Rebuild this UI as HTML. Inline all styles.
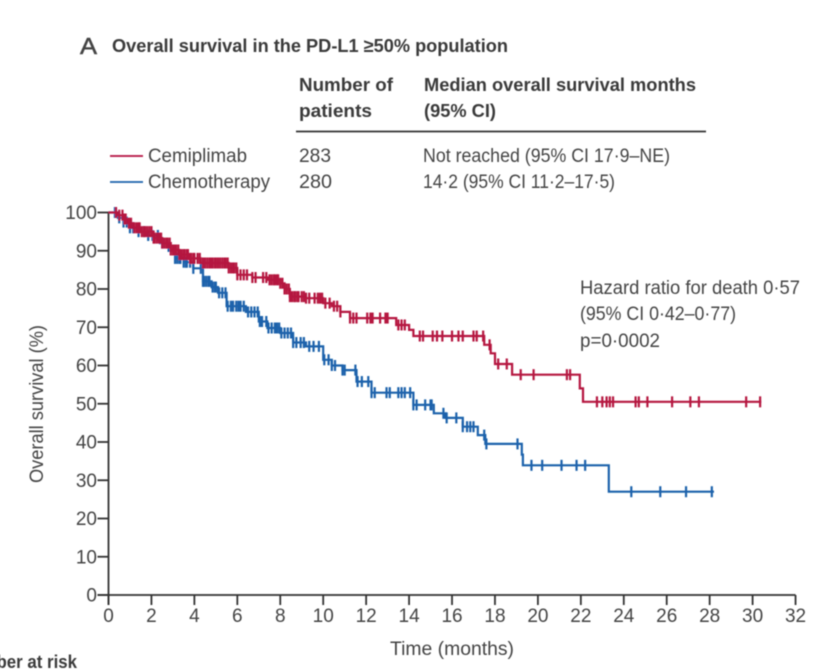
<!DOCTYPE html>
<html>
<head>
<meta charset="utf-8">
<style>
html,body{margin:0;padding:0;background:#fff;width:836px;height:670px;overflow:hidden}
svg{display:block}
text{font-family:"Liberation Sans",sans-serif;fill:#444;font-size:19px}
.b{font-weight:bold;fill:#3a3a3a;font-size:18.5px}
</style>
</head>
<body>
<svg id="chart" width="836" height="670" viewBox="0 0 836 670" xmlns="http://www.w3.org/2000/svg">
<defs><filter id="soft" x="-5%" y="-5%" width="110%" height="110%"><feGaussianBlur stdDeviation="0.5"/></filter></defs>
<g id="root" filter="url(#soft)">
<text x="80" y="54" style="font-size:23px;stroke:#444;stroke-width:0.5" textLength="17" lengthAdjust="spacingAndGlyphs">A</text>
<text class="b" x="112" y="52" textLength="396" lengthAdjust="spacingAndGlyphs">Overall survival in the PD-L1 ≥50% population</text>
<text class="b" x="299" y="91" textLength="94" lengthAdjust="spacingAndGlyphs">Number of</text>
<text class="b" x="299" y="117" textLength="73" lengthAdjust="spacingAndGlyphs">patients</text>
<text class="b" x="424" y="91" textLength="272" lengthAdjust="spacingAndGlyphs">Median overall survival months</text>
<text class="b" x="424" y="117" textLength="72" lengthAdjust="spacingAndGlyphs">(95% CI)</text>
<line x1="296" x2="706" y1="131.5" y2="131.5" stroke="#333" stroke-width="1.8"/>
<line x1="110" x2="143" y1="156" y2="156" stroke="#b5163f" stroke-width="1.8"/>
<text x="148" y="162" textLength="99" lengthAdjust="spacingAndGlyphs">Cemiplimab</text>
<line x1="110" x2="143" y1="182" y2="182" stroke="#1b62ab" stroke-width="1.8"/>
<text x="148" y="188" textLength="122" lengthAdjust="spacingAndGlyphs">Chemotherapy</text>
<text x="299" y="162" textLength="32" lengthAdjust="spacingAndGlyphs">283</text>
<text x="299" y="188" textLength="33" lengthAdjust="spacingAndGlyphs">280</text>
<text x="423" y="162" textLength="247" lengthAdjust="spacingAndGlyphs">Not reached (95% CI 17·9–NE)</text>
<text x="423" y="188" textLength="192" lengthAdjust="spacingAndGlyphs">14·2 (95% CI 11·2–17·5)</text>
<text x="580" y="294" textLength="220" lengthAdjust="spacingAndGlyphs">Hazard ratio for death 0·57</text>
<text x="580" y="320" textLength="156" lengthAdjust="spacingAndGlyphs">(95% CI 0·42–0·77)</text>
<text x="580" y="347" textLength="80" lengthAdjust="spacingAndGlyphs">p=0·0002</text>
<text transform="translate(43,483) rotate(-90)" textLength="158" lengthAdjust="spacingAndGlyphs">Overall survival (%)</text>
<text x="390" y="655" textLength="124" lengthAdjust="spacingAndGlyphs">Time (months)</text>
<text class="b" x="77" y="668" text-anchor="end" textLength="118" lengthAdjust="spacingAndGlyphs">Number at risk</text>
<g id="plot"></g>
</g>
</svg>
<script>
const xTicks = [0,2,4,6,8,10,12,14,16,18,20,22,24,26,28,30,32];
const yTicks = [0,10,20,30,40,50,60,70,80,90,100];

const cemiTimes = [0,0.4,0.7,0.9,1.15,1.5,2.1,2.5,2.9,3.3,3.8,4.3,5.2,5.6,6,6.7,7.4,8,8.2,8.45,9.2,10,10.4,10.8,11.25,13.2,13.4,14,14.2,17.3,17.5,17.8,18,18.8,21.95,22.1,30.4];
const cemiSurv = [100,99.3,98.3,97.2,96,95,93.3,92,90.2,89,88,86.8,86.8,85.5,83.7,83,82.4,81.5,80,78,77.6,76.3,75.5,74,72.4,72.4,70.6,69.3,67.7,67.7,65.4,63.2,60.4,57.6,54,50.5,50.5];
const chemoTimes = [0,0.44,0.7,1,1.4,1.8,2.4,2.8,3.1,3.5,3.95,4.4,4.8,5.1,5.5,6.4,7,7.4,8,8.6,9.2,10,10.4,10.9,11.55,12.25,14.2,15.15,15.7,16.5,17.2,17.55,19.25,19.3,23.3,28.2];
const chemoSurv = [100,98.6,97.5,96,95,94,92,90,88,87,85.4,82,80.5,79,75.5,74,71.5,69.8,68.5,66,65,61.5,60,58.8,55.8,52.9,49.7,47.5,46.3,44,41.8,39.5,36.7,33.9,27,27];

const cemiCensor = [0.35,0.5,0.65,0.75,0.8,0.95,1.05,1.2,1.3,1.4,1.45,1.55,1.65,1.7,1.8,1.9,2.0,2.1,2.15,2.25,2.35,2.45,2.5,2.6,2.7,2.75,2.85,2.9,3.0,3.1,3.15,3.25,3.3,3.4,3.5,3.55,3.65,3.7,3.8,3.85,3.95,4.0,4.15,4.25,4.4,4.5,4.6,4.7,4.8,4.85,4.95,5.0,5.1,5.2,5.3,5.4,5.45,5.55,5.6,5.7,5.8,5.85,5.95,6.0,6.15,6.3,6.45,6.7,6.85,7.2,7.35,7.5,7.6,7.7,7.75,7.85,7.9,8.0,8.1,8.2,8.3,8.4,8.45,8.55,8.65,8.7,8.8,8.85,9.0,9.1,9.2,9.35,9.6,9.75,9.85,9.95,10.1,10.3,10.5,10.65,10.8,11.25,11.4,11.55,12.05,12.2,12.3,12.65,12.9,13.0,13.5,13.65,13.8,14.5,14.65,15.1,15.3,15.55,16,16.3,16.5,17,17.15,17.45,17.75,18.15,18.55,19.2,19.8,21.35,21.5,22.75,23,23.2,23.35,23.5,24.55,24.7,25.1,26.25,27.1,27.5,29.7,30.35];
const chemoCensor = [0.3,0.5,0.7,0.85,1.0,1.15,1.4,1.65,1.85,2.05,2.3,2.5,3.1,3.2,3.3,3.35,3.5,3.6,3.65,3.8,3.95,4.3,4.4,4.45,4.55,4.65,4.7,4.85,4.95,5.0,5.15,5.3,5.45,5.55,5.7,5.8,5.95,6.05,6.15,6.3,6.5,6.65,6.8,6.95,7.05,7.15,7.35,7.45,7.6,7.75,7.85,7.95,8.05,8.2,8.35,8.5,8.6,8.75,8.95,9.1,9.35,9.55,9.8,10.05,10.25,10.4,10.55,10.9,11,11.5,11.6,11.8,12.1,12.25,12.4,12.95,13.1,13.5,13.65,13.8,14.05,14.2,14.35,14.75,15,15.05,15.6,15.75,16.2,16.5,16.7,16.85,17,17.5,17.6,19.05,19.7,20.2,21.1,21.8,22.2,24.35,25.7,26.9,28.1];

const NS = 'http://www.w3.org/2000/svg';
const plot = document.getElementById('plot');
const xScale = t => 108.5 + t * 21.47;
const yScale = s => 595 - s * 3.825;

function survivalAt(times, surv, t) {
  let v = surv[0];
  for (let i = 0; i < times.length; i++) { if (times[i] <= t) v = surv[i]; }
  return v;
}
function stepPath(times, surv) {
  let d = 'M' + xScale(times[0]) + ' ' + yScale(surv[0]);
  for (let i = 1; i < times.length; i++) {
    d += ' H' + xScale(times[i]).toFixed(1) + ' V' + yScale(surv[i]).toFixed(1);
  }
  return d;
}
function drawSeries(times, surv, censor, color, key) {
  const line = document.createElementNS(NS, 'path');
  line.setAttribute('d', stepPath(times, surv));
  line.setAttribute('fill', 'none');
  line.setAttribute('stroke', color);
  line.setAttribute('stroke-width', '2.2');
  
  
  plot.appendChild(line);
  censor.forEach(t => {
    const y = yScale(survivalAt(times, surv, t));
    const m = document.createElementNS(NS, 'line');
    m.setAttribute('x1', xScale(t));
    m.setAttribute('x2', xScale(t));
    m.setAttribute('y1', y - 5.5);
    m.setAttribute('y2', y + 5.5);
    m.setAttribute('stroke', color);
    m.setAttribute('stroke-width', '2.2');
    
    
    plot.appendChild(m);
  });
}
function addLine(x1, y1, x2, y2, name) {
  const l = document.createElementNS(NS, 'line');
  l.setAttribute('x1', x1);
  l.setAttribute('y1', y1);
  l.setAttribute('x2', x2);
  l.setAttribute('y2', y2);
  l.setAttribute('stroke', '#333');
  l.setAttribute('stroke-width', '1.8');
  
  
  plot.appendChild(l);
}
function addLabel(x, y, str, anchor, name) {
  const t = document.createElementNS(NS, 'text');
  t.setAttribute('x', x);
  t.setAttribute('y', y);
  t.setAttribute('text-anchor', anchor);
  
  
  t.textContent = str;
  plot.appendChild(t);
}

addLine(xScale(0), yScale(100), xScale(0), 605, 'y-axis-line');
addLine(xScale(0) - 11, yScale(0), xScale(32), yScale(0), 'x-axis-line');
yTicks.forEach(v => {
  addLine(xScale(0) - 11, yScale(v), xScale(0), yScale(v), 'y-axis-tick');
  addLabel(97, yScale(v) + 6.5, String(v), 'end', 'y-tick-label');
});
xTicks.forEach(v => {
  addLine(xScale(v), yScale(0), xScale(v), 605, 'x-axis-tick');
  addLabel(xScale(v), 622, String(v), 'middle', 'x-tick-label');
});
drawSeries(chemoTimes, chemoSurv, chemoCensor, '#1b62ab', 'chemotherapy');
drawSeries(cemiTimes, cemiSurv, cemiCensor, '#b5163f', 'cemiplimab');
</script>
</body>
</html>
